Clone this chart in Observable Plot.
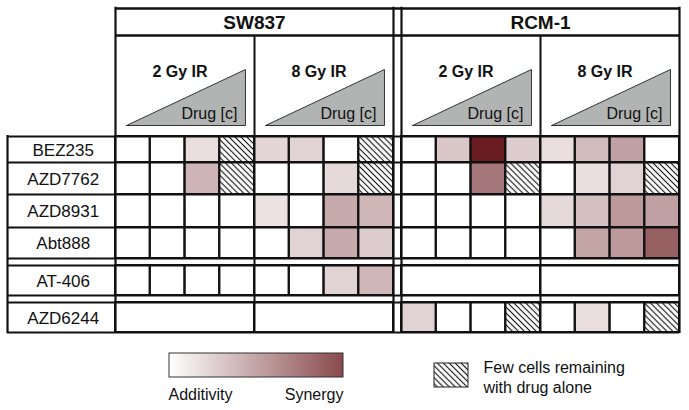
<!DOCTYPE html>
<html><head><meta charset="utf-8">
<script src="https://cdn.jsdelivr.net/npm/d3@7"></script>
<script src="https://cdn.jsdelivr.net/npm/@observablehq/plot@0.6"></script>
<style>html,body{margin:0;padding:0;background:#fff} svg{display:block}</style>
</head><body><div id="chart"></div>
<script>
// ---------- data ----------
const cellLines = ["SW837", "RCM-1"];
const doses = ["2 Gy IR", "8 Gy IR"];
const drugs = ["BEZ235", "AZD7762", "AZD8931", "Abt888", "AT-406", "AZD6244"];
const concLabel = "Drug [c]";
// synergy per drug concentration (4 per dose): 0 = additivity, 1 = strongest synergy
// "H" = few cells remaining with drug alone; null = row shown without concentrations
const sw837Scores = [
  [0, 0, 0.15, "H", 0.18, 0.2, 0, "H"],
  [0, 0, 0.33, "H", 0, 0, 0.17, "H"],
  [0, 0, 0, 0, 0.13, 0, 0.38, 0.32],
  [0, 0, 0, 0, 0, 0.2, 0.38, 0.22],
  [0, 0, 0, 0, 0, 0, 0.2, 0.32],
  null
];
const rcm1Scores = [
  [0, 0.25, 1, 0.22, 0.15, 0.3, 0.42, 0],
  [0, 0, 0.6, "H", 0, 0.14, 0.2, "H"],
  [0, 0, 0, 0, 0.17, 0.28, 0.45, 0.42],
  [0, 0, 0, 0, 0, 0.4, 0.45, 0.7],
  null,
  [0.2, 0, 0, "H", 0, 0.15, 0, "H"]
];
const legendLabels = ["Additivity", "Synergy"];
const hatchLabels = ["Few cells remaining", "with drug alone"];

// ---------- layout ----------
const W = 689, H = 410;
const colW = 34.75, gridLeftPx = 115;
const gap = 8 / colW;
const lineOffset = [0, 8 + gap];
const rightEdge = 16 + gap;
const labelLeft = (7 - gridLeftPx) / colW;
const px = p => (p - gridLeftPx) / colW; // pixel -> column units (legend placement)
const rowTop = [136, 162, 194, 227, 265, 302];
const rowBot = [162, 194, 227, 258, 295, 332];
const headTop = 8, headBot = 35, gridTop = 136, gridBot = 332;

const cells = [];
cellLines.forEach((cl, li) => {
  const scores = li === 0 ? sw837Scores : rcm1Scores;
  drugs.forEach((dr, ri) => {
    const row = scores[ri];
    if (row === null) {
      doses.forEach((d, di) => cells.push({x1: lineOffset[li] + 4 * di, x2: lineOffset[li] + 4 * di + 4, y1: rowTop[ri], y2: rowBot[ri], v: 0, hatch: false}));
    } else {
      row.forEach((v, j) => cells.push({x1: lineOffset[li] + j, x2: lineOffset[li] + j + 1, y1: rowTop[ri], y2: rowBot[ri], v: v === "H" ? 0 : v, hatch: v === "H"}));
    }
  });
});

const sections = [];
cellLines.forEach((cl, li) => doses.forEach((d, di) => sections.push({cl, dose: d, s: lineOffset[li] + 4 * di})));
const triPts = [];
sections.forEach((sec, k) => {
  [[0.32, 125], [3.74, 69], [3.74, 125], [0.32, 125]].forEach(([dx, y]) => triPts.push({k, x: sec.s + dx, y}));
});

const hBounds = [gridTop, ...rowBot, ...rowTop.slice(1)].filter((v, i, a) => a.indexOf(v) === i);
const vFull = [0, 8, 8 + gap, rightEdge];
const vSub = [4, 12 + gap];

const legX1 = px(169), legX2 = px(343), legMax = 0.8;
const colorRange = ["#ffffff", "#6a1d21"];

const defsMark = (index, scales) => {
  const color = scales && scales.color ? scales.color : d3.scaleLinear([0, 1], colorRange);
  const defs = d3.create("svg:defs");
  const p = defs.append("pattern").attr("id", "hatch").attr("patternUnits", "userSpaceOnUse")
    .attr("width", 4.2).attr("height", 4.2).attr("patternTransform", "rotate(-45)");
  p.append("rect").attr("width", 4.2).attr("height", 4.2).attr("fill", "#fff");
  p.append("line").attr("x1", 2.1).attr("y1", -1).attr("x2", 2.1).attr("y2", 5.2).attr("stroke", "#111").attr("stroke-width", 1.1);
  const g = defs.append("linearGradient").attr("id", "synergyRamp").attr("x1", "0%").attr("x2", "100%").attr("y1", "0%").attr("y2", "0%");
  d3.range(11).forEach(i => g.append("stop").attr("offset", `${i * 10}%`).attr("stop-color", color(legMax * i / 10)));
  return defs.node();
};

const ink = "#111";
const chart = Plot.plot({
  width: W, height: H,
  margin: 0,
  x: {type: "linear", domain: [-gridLeftPx / colW, (W - gridLeftPx) / colW], range: [0, W], axis: null},
  y: {type: "linear", domain: [0, H], range: [0, H], axis: null},
  color: {type: "linear", domain: [0, 1], range: colorRange, interpolate: "rgb"},
  style: {fontFamily: "'Liberation Sans', Arial, sans-serif", fontSize: "16px", background: "#fff", color: ink},
  marks: [
    defsMark,
    Plot.rect(cells, {x1: "x1", x2: "x2", y1: "y1", y2: "y2", fill: "v"}),
    Plot.rect(cells.filter(d => d.hatch), {x1: "x1", x2: "x2", y1: "y1", y2: "y2", fill: "url(#hatch)"}),
    Plot.rect(cells, {x1: "x1", x2: "x2", y1: "y1", y2: "y2", fill: "none", stroke: ink, strokeWidth: 2}),
    // grid frame
    Plot.ruleY(hBounds, {y: d => d, x1: labelLeft, x2: rightEdge, stroke: ink, strokeWidth: 2}),
    Plot.ruleY([headTop, headBot], {y: d => d, x1: 0, x2: rightEdge, stroke: ink, strokeWidth: 2.5}),
    Plot.ruleX(vFull, {x: d => d, y1: headTop - 1.2, y2: gridBot + 1, stroke: ink, strokeWidth: 2.2}),
    Plot.ruleX(vSub, {x: d => d, y1: headBot, y2: gridBot, stroke: ink, strokeWidth: 2}),
    Plot.ruleX([labelLeft], {x: d => d, y1: gridTop - 1, y2: gridBot + 1, stroke: ink, strokeWidth: 2.2}),
    // triangles
    Plot.line(triPts, {x: "x", y: "y", z: "k", fill: "#b2b3b3", stroke: "#333", strokeWidth: 1}),
    // texts
    Plot.text(cellLines, {x: (d, i) => lineOffset[i] + 4, y: 22, text: d => d, fontWeight: "bold", fontSize: 19, fill: ink}),
    Plot.text(sections, {x: d => d.s + 2 - 5 / colW, y: 71, text: "dose", fontWeight: "bold", fontSize: 16, fill: ink}),
    Plot.text(sections, {x: d => d.s + 4 - 17 / colW, y: 113, text: () => concLabel, textAnchor: "end", fontSize: 16, fill: ink}),
    Plot.text(drugs, {x: labelLeft / 2 + 0.05, y: (d, i) => (rowTop[i] + rowBot[i]) / 2 + 1, text: d => d, fontSize: 17, fill: ink}),
    // legend
    Plot.rect([0], {x1: legX1, x2: legX2, y1: 353, y2: 377, fill: "url(#synergyRamp)", stroke: "#333", strokeWidth: 1}),
    Plot.text(legendLabels.slice(0, 1), {x: px(168), y: 394, text: d => d, textAnchor: "start", fontSize: 16, fill: ink}),
    Plot.text(legendLabels.slice(1), {x: px(343), y: 394, text: d => d, textAnchor: "end", fontSize: 16, fill: ink}),
    Plot.rect([0], {x1: px(434), x2: px(468), y1: 363, y2: 387, fill: "url(#hatch)", stroke: "#222", strokeWidth: 1}),
    Plot.text(hatchLabels, {x: px(483), y: (d, i) => 367 + 20 * i, text: d => d, textAnchor: "start", fontSize: 16, fill: ink})
  ]
});
document.getElementById("chart").appendChild(chart);
</script>
</body></html>
